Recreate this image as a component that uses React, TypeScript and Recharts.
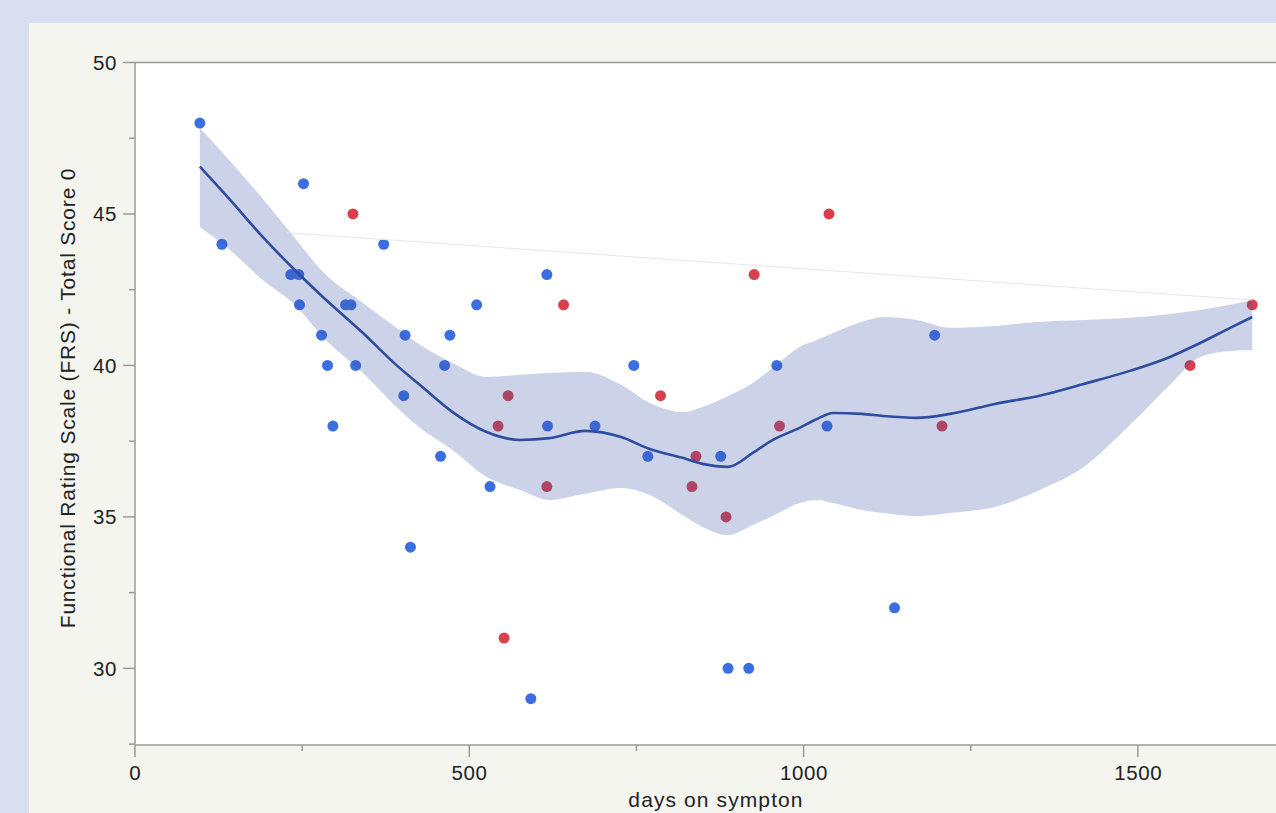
import React from 'react';
import { ComposedChart, Scatter, Area, Line, XAxis, YAxis, CartesianGrid, ReferenceLine } from 'recharts';

// observed points (days on symptom, FRS total score)
const blueDays = [97, 130, 252, 233, 245, 246, 279, 288, 296, 315, 323, 330, 372, 404, 402, 412, 457, 463, 471, 511, 531, 592, 616, 617, 688, 746, 767, 876, 887, 918, 960, 1035, 1136, 1196];
const blueScores = [48, 44, 46, 43, 43, 42, 41, 40, 38, 42, 42, 40, 44, 41, 39, 34, 37, 40, 41, 42, 36, 29, 43, 38, 38, 40, 37, 37, 30, 30, 40, 38, 32, 41];

const redDays = [326, 543, 552, 558, 616, 641, 786, 833, 839, 884, 926, 964, 1038, 1207, 1578, 1671];
const redScores = [45, 38, 31, 39, 36, 42, 39, 36, 37, 35, 43, 38, 45, 38, 40, 42];

// smoother fit + confidence band
const fitDays = [97, 142, 191, 239, 281, 341, 391, 426, 475, 526, 576, 620, 673, 727, 770, 819, 849, 887, 924, 954, 994, 1020, 1044, 1087, 1119, 1169, 1219, 1286, 1353, 1419, 1488, 1548, 1593, 1638, 1671];
const fitValues = [46.56, 45.47, 44.24, 43.15, 42.26, 41.07, 40.01, 39.36, 38.46, 37.8, 37.54, 37.6, 37.84, 37.64, 37.24, 36.95, 36.75, 36.65, 37.11, 37.54, 37.94, 38.23, 38.43, 38.4, 38.33, 38.27, 38.4, 38.73, 39.0, 39.39, 39.82, 40.28, 40.74, 41.24, 41.6];
const bandLow = [44.57, 43.81, 42.82, 42.0, 40.94, 39.75, 38.63, 37.94, 37.21, 36.32, 35.89, 35.56, 35.76, 35.95, 35.72, 35.06, 34.67, 34.4, 34.73, 35.03, 35.46, 35.56, 35.46, 35.23, 35.13, 35.03, 35.13, 35.33, 35.89, 36.65, 38.03, 39.36, 40.28, 40.48, 40.51];
const bandHigh = [47.84, 46.75, 45.5, 44.21, 43.09, 42.06, 41.24, 40.68, 40.08, 39.62, 39.69, 39.75, 39.79, 39.36, 38.76, 38.46, 38.63, 38.99, 39.42, 39.92, 40.61, 40.84, 41.07, 41.44, 41.6, 41.5, 41.24, 41.3, 41.44, 41.5, 41.57, 41.7, 41.83, 42.0, 42.16];

// faint straight line across the top of the band
const faintDays = [227, 1671];
const faintValues = [44.38, 42.16];

const xTicks = [0, 250, 500, 750, 1000, 1250, 1500];
const yTicks = [27.5, 30, 32.5, 35, 37.5, 40, 42.5, 45, 47.5, 50];

const blueData = blueDays.map((d, i) => ({ day: d, score: blueScores[i] }));
const redData = redDays.map((d, i) => ({ day: d, score: redScores[i] }));
const fitData = fitDays.map((d, i) => ({ day: d, fit: fitValues[i], band: [bandLow[i], bandHigh[i]] }));
const faintData = faintDays.map((d, i) => ({ day: d, v: faintValues[i] }));

const FONT = '"Liberation Sans", Arial, Helvetica, sans-serif';
const AXIS = '#9a9a9a';

const YTick = (props: any) => {
  const { x, y, payload } = props;
  const major = payload.value % 5 === 0;
  return (
    <g>
      <line x1={x - (major ? 12 : 6)} x2={x} y1={y} y2={y} stroke={AXIS} strokeWidth={1.5} />
      {major && (
        <text x={x - 18} y={y} textAnchor="end" dominantBaseline="central" fontSize={20.5} letterSpacing={0.6} fill="#222" fontFamily={FONT}>
          {payload.value}
        </text>
      )}
    </g>
  );
};

const XTick = (props: any) => {
  const { x, y, payload } = props;
  const major = payload.value % 500 === 0;
  return (
    <g>
      <line x1={x} x2={x} y1={y} y2={y + (major ? 12 : 6)} stroke={AXIS} strokeWidth={1.5} />
      {major && (
        <text x={x + 0.3} y={y + 35} textAnchor="middle" fontSize={20.5} letterSpacing={0.6} fill="#222" fontFamily={FONT}>
          {payload.value}
        </text>
      )}
    </g>
  );
};

export default function App() {
  return (
    <div style={{ position: 'fixed', left: 0, top: 0, width: 1276, height: 813, overflow: 'hidden', background: '#d7dff0' }}>
      <div style={{ position: 'absolute', left: 29, top: 23, right: 0, bottom: 0, background: '#f5f5f0' }} />
      <div style={{ position: 'absolute', left: 0, top: 0 }}>
        <ComposedChart width={1290} height={813} margin={{ top: 62.5, right: 5, bottom: 18, left: 35 }}>
          <CartesianGrid fill="#ffffff" stroke="transparent" />
          <XAxis
            dataKey="day"
            type="number"
            domain={[0, 1720]}
            allowDataOverflow
            ticks={xTicks}
            interval={0}
            height={50}
            tickSize={0}
            tickMargin={0}
            tickLine={false}
            axisLine={{ stroke: AXIS, strokeWidth: 1.5 }}
            tick={<XTick />}
          />
          <YAxis
            type="number"
            domain={[27.47, 50]}
            allowDataOverflow
            ticks={yTicks}
            interval={0}
            width={100}
            tickSize={0}
            tickMargin={0}
            tickLine={false}
            axisLine={{ stroke: AXIS, strokeWidth: 1.5 }}
            tick={<YTick />}
          />
          <ReferenceLine y={50} stroke={AXIS} strokeWidth={1.5} />
          <Scatter data={blueData} dataKey="score" fill="#3b6ee0" shape={(p: any) => <circle cx={p.cx} cy={p.cy} r={5.5} fill="#3b6ee0" />} isAnimationActive={false} zIndex={500} />
          <Scatter data={redData} dataKey="score" fill="#d8404e" shape={(p: any) => <circle cx={p.cx} cy={p.cy} r={5.5} fill="#d8404e" />} isAnimationActive={false} zIndex={500} />
          <Area data={fitData} dataKey="band" type="monotone" stroke="none" fill="#3a55a5" fillOpacity={0.26} isAnimationActive={false} zIndex={600} />
          <Line data={faintData} dataKey="v" stroke="#e4e7f3" strokeWidth={1} dot={false} isAnimationActive={false} zIndex={650} />
          <Line data={fitData} dataKey="fit" type="monotone" stroke="#2f4d9e" strokeWidth={2.6} dot={false} isAnimationActive={false} zIndex={700} />
        </ComposedChart>
      </div>
      <div style={{ position: 'absolute', left: 716, top: 800, transform: 'translate(-50%, -50%)', fontFamily: FONT, fontSize: 21, letterSpacing: 1.1, color: '#222', whiteSpace: 'nowrap' }}>
        days on sympton
      </div>
      <div style={{ position: 'absolute', left: 68, top: 398, transform: 'translate(-50%, -50%) rotate(-90deg)', fontFamily: FONT, fontSize: 21, letterSpacing: 0.8, color: '#222', whiteSpace: 'nowrap' }}>
        Functional Rating Scale (FRS) - Total Score 0
      </div>
    </div>
  );
}
